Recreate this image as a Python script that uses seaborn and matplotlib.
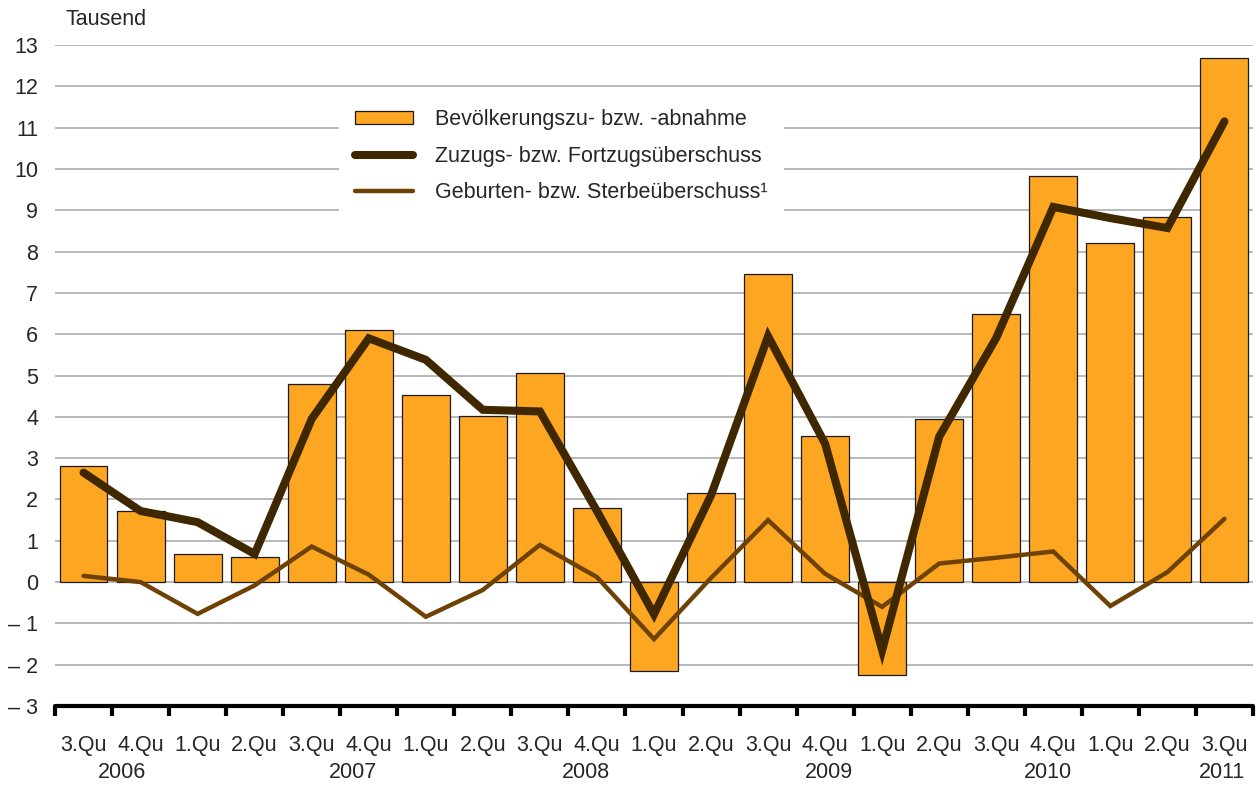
import numpy as np
import pandas as pd
import matplotlib
matplotlib.use("Agg")
import matplotlib.pyplot as plt
import matplotlib.transforms as mtransforms
from matplotlib.patches import Patch
from matplotlib.lines import Line2D
import seaborn as sns

# ---------- data ----------
quarters = ["3.Qu", "4.Qu",
            "1.Qu", "2.Qu", "3.Qu", "4.Qu",
            "1.Qu", "2.Qu", "3.Qu", "4.Qu",
            "1.Qu", "2.Qu", "3.Qu", "4.Qu",
            "1.Qu", "2.Qu", "3.Qu", "4.Qu",
            "1.Qu", "2.Qu", "3.Qu"]
years = ["2006", "2007", "2008", "2009", "2010", "2011"]

bevoelkerung = [2.8, 1.72, 0.68, 0.6, 4.8, 6.1, 4.52, 4.01, 5.06, 1.79,
                -2.15, 2.15, 7.46, 3.53, -2.25, 3.95, 6.49, 9.84, 8.21, 8.83, 12.69]
zuzug = [2.65, 1.72, 1.45, 0.68, 3.95, 5.9, 5.38, 4.17, 4.13, 1.72,
         -0.78, 2.1, 5.95, 3.35, -1.65, 3.52, 5.91, 9.08, 8.81, 8.57, 11.15]
geburten = [0.15, 0.0, -0.77, -0.08, 0.86, 0.18, -0.84, -0.19, 0.9, 0.12,
            -1.38, 0.1, 1.5, 0.2, -0.6, 0.45, 0.59, 0.74, -0.58, 0.24, 1.53]

labels = ["Bevölkerungszu- bzw. -abnahme",
          "Zuzugs- bzw. Fortzugsüberschuss",
          "Geburten- bzw. Sterbeüberschuss¹"]

# layout of the year captions (x in category units)
year_pos = [0.67, 4.73, 8.8, 13.06, 16.9, 19.96]

BAR = "#FCA622"
DARK = "#3F2800"
BROWN = "#6E4205"

sns.set_style("white")
plt.rcParams["font.family"] = ["Liberation Sans", "DejaVu Sans"]
plt.rcParams["font.size"] = 15.5

df = pd.DataFrame({
    "pos": np.arange(len(quarters)),
    "key": [f"{i}" for i in range(len(quarters))],
    "bev": bevoelkerung,
    "zuzug": zuzug,
    "geburten": geburten,
})

fig = plt.figure(figsize=(12.59, 7.85), dpi=100)
ax = fig.add_axes([0.0437, 0.1006, 0.9515, 0.8421])

sns.barplot(data=df, x="key", y="bev", color=BAR, saturation=1, width=0.84,
            edgecolor="#1a1a1a", linewidth=0.9, ax=ax, zorder=2)
sns.lineplot(data=df, x="pos", y="geburten", color=BROWN, lw=3.2,
             solid_capstyle="round", solid_joinstyle="miter", ax=ax, zorder=3)
sns.lineplot(data=df, x="pos", y="zuzug", color=DARK, lw=5.8,
             solid_capstyle="round", solid_joinstyle="miter", ax=ax, zorder=4)

ax.set_xlim(-0.5, len(quarters) - 0.5)
ax.set_ylim(-3, 13)
ax.set_yticks(range(-3, 14))
ax.set_yticklabels([f"– {abs(v)}" if v < 0 else f"{v}" for v in range(-3, 14)])
ax.yaxis.grid(True, color="#a6a6a6", lw=1.1, zorder=0)
ax.set_axisbelow(True)

ax.set_xticks(np.arange(len(quarters)))
ax.set_xticklabels(quarters)
ax.set_xticks(np.arange(-0.5, len(quarters)), minor=True)
ax.tick_params(axis="x", which="major", bottom=True, length=0, pad=21)
ax.tick_params(axis="x", which="minor", bottom=True, length=7, width=3,
               direction="out", color="black")
ax.tick_params(axis="y", left=False, length=0, pad=12)
ax.set_xlabel("")
ax.set_ylabel("")

for side in ["top", "right", "left"]:
    ax.spines[side].set_visible(False)
ax.spines["bottom"].set_linewidth(3)
ax.spines["bottom"].set_color("black")
ax.spines["bottom"].set_capstyle("round")

trans = mtransforms.blended_transform_factory(ax.transData, fig.transFigure)
for x, y in zip(year_pos, years):
    ax.text(x, 0.0153, y, transform=trans, ha="center", va="center")

fig.text(0.052, 0.975, "Tausend", ha="left", va="center")

handles = [
    Patch(facecolor=BAR, edgecolor="#1a1a1a", linewidth=0.9),
    Line2D([], [], color=DARK, lw=5.8, solid_capstyle="round"),
    Line2D([], [], color=BROWN, lw=3.2, solid_capstyle="round"),
]
leg = ax.legend(handles, labels, loc="upper left",
                bbox_to_anchor=(284 / 1198, 1 - 48 / 661),
                frameon=True, facecolor="white", edgecolor="none", framealpha=1,
                fancybox=False, handlelength=2.7, handleheight=0.55,
                handletextpad=1.0, labelspacing=0.72, borderpad=0.75,
                borderaxespad=0)
leg.set_zorder(5)

fig.savefig("out.png", dpi=100)
